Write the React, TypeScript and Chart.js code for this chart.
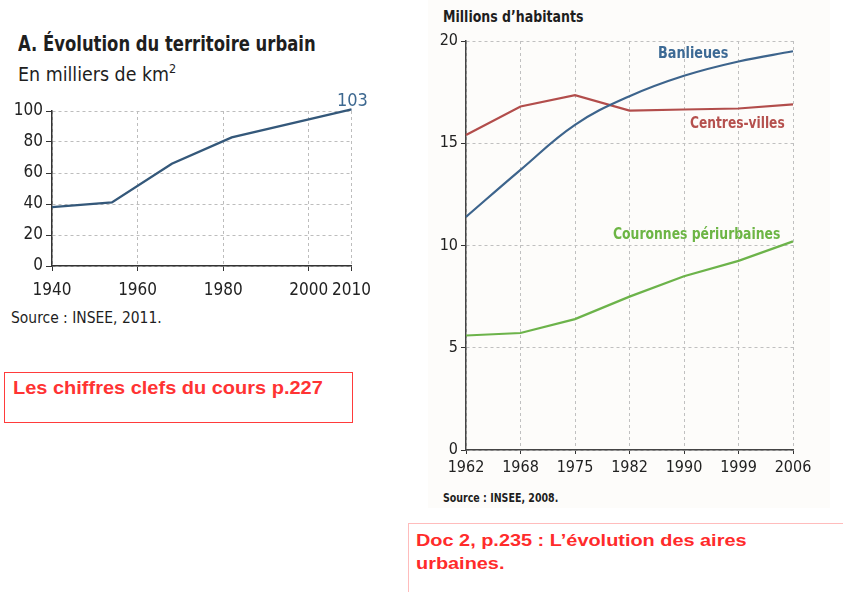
import React, { useEffect, useRef } from "react";
import { Chart, registerables } from "chart.js";

Chart.register(...registerables);

// ---- Chart A : territoire urbain (milliers de km²)
const areaYears = [1940, 1954, 1968, 1982, 2010];
const areaValues = [38, 41, 66, 83, 101];
const areaXTicks = [1940, 1960, 1980, 2000, 2010];
const areaYTicks = [0, 20, 40, 60, 80, 100];
const areaEndLabel = "103";

// ---- Doc 2 : population (millions d'habitants)
const popYears = ["1962", "1968", "1975", "1982", "1990", "1999", "2006"];
const banlieues = [11.4, 13.7, 15.9, 17.3, 18.3, 19.0, 19.5];
const centresVilles = [15.4, 16.8, 17.35, 16.6, 16.65, 16.7, 16.9];
const couronnes = [5.6, 5.72, 6.4, 7.5, 8.5, 9.25, 10.2];
const popYTicks = [0, 5, 10, 15, 20];

const COND = '"DejaVu Sans Condensed", sans-serif';
const ARIAL = '"Liberation Sans", Arial, sans-serif';

function AreaChart() {
  const ref = useRef<HTMLCanvasElement>(null);
  useEffect(() => {
    const chart = new Chart(ref.current!, {
      type: "line",
      data: {
        datasets: [
          {
            data: areaYears.map((y, i) => ({ x: y, y: areaValues[i] })),
            borderColor: "#34587a",
            borderWidth: 2.4,
            pointRadius: 0,
            tension: 0,
            clip: false as any,
          },
        ],
      },
      options: {
        animation: false,
        responsive: false,
        layout: { padding: { top: 16, right: 25, left: 0, bottom: 0 } },
        plugins: { legend: { display: false }, tooltip: { enabled: false } },
        scales: {
          x: {
            type: "linear",
            min: 1940,
            max: 2010,
            afterBuildTicks: (s: any) => {
              s.ticks = areaXTicks.map((v) => ({ value: v }));
            },
            afterFit: (s: any) => {
              s.height = 39;
            },
            ticks: {
              font: { family: COND, size: 17 },
              color: "#222",
              padding: 9,
              maxRotation: 0,
              autoSkip: false,
              callback: (v: any) => String(v),
            },
            grid: { color: "#bdbdbd", tickColor: "#333", tickLength: 5, lineWidth: 1 },
            border: { color: "#333", width: 1.5, dash: [3, 3] },
          },
          y: {
            min: 0,
            max: 100,
            afterBuildTicks: (s: any) => {
              s.ticks = areaYTicks.map((v) => ({ value: v }));
            },
            afterFit: (s: any) => {
              s.width = 52;
            },
            ticks: { font: { family: COND, size: 17 }, color: "#222", padding: 3 },
            grid: { color: "#bdbdbd", tickColor: "#333", tickLength: 6, lineWidth: 1 },
            border: { color: "#333", width: 1.5, dash: [3, 3] },
          },
        },
      },
    });
    return () => chart.destroy();
  }, []);
  return <canvas ref={ref} width={380} height={210} style={{ position: "absolute", left: 0, top: 95 }} />;
}

function PopChart() {
  const ref = useRef<HTMLCanvasElement>(null);
  useEffect(() => {
    const common = { pointRadius: 0, borderWidth: 2.2, fill: false };
    const chart = new Chart(ref.current!, {
      type: "line",
      data: {
        labels: popYears,
        datasets: [
          { ...common, label: "Banlieues", data: banlieues, borderColor: "#3d648c", tension: 0.4 },
          { ...common, label: "Centres-villes", data: centresVilles, borderColor: "#b24d4b", tension: 0 },
          { ...common, label: "Couronnes périurbaines", data: couronnes, borderColor: "#6cb34a", tension: 0 },
        ],
      },
      options: {
        animation: false,
        responsive: false,
        layout: { padding: { top: 16, right: 47, left: 0, bottom: 0 } },
        plugins: { legend: { display: false }, tooltip: { enabled: false } },
        scales: {
          x: {
            offset: false,
            afterFit: (s: any) => {
              s.height = 35;
            },
            ticks: { font: { family: COND, size: 16 }, color: "#222", padding: 4, maxRotation: 0, autoSkip: false },
            grid: { color: "#c0c0c0", tickColor: "#333", tickLength: 4, lineWidth: 1 },
            border: { color: "#444", width: 1.5, dash: [3, 3] },
          },
          y: {
            min: 0,
            max: 20,
            afterBuildTicks: (s: any) => {
              s.ticks = popYTicks.map((v) => ({ value: v }));
            },
            afterFit: (s: any) => {
              s.width = 46;
            },
            ticks: { font: { family: COND, size: 16 }, color: "#222", padding: 3 },
            grid: { color: "#c0c0c0", tickColor: "#333", tickLength: 5, lineWidth: 1 },
            border: { color: "#444", width: 1.5, dash: [3, 3] },
          },
        },
      },
    });
    return () => chart.destroy();
  }, []);
  return <canvas ref={ref} width={420} height={460} style={{ position: "absolute", left: 420, top: 25 }} />;
}

function T(props: {
  x: number;
  top: number;
  size: number;
  text?: string;
  color?: string;
  weight?: string | number;
  family?: string;
  sx?: number;
  children?: any;
}) {
  return (
    <div
      style={{
        position: "absolute",
        left: props.x,
        top: props.top,
        fontSize: props.size,
        lineHeight: 1,
        whiteSpace: "nowrap",
        color: props.color || "#1e1e1e",
        fontWeight: props.weight || "normal",
        fontFamily: props.family || COND,
        transform: props.sx ? `scaleX(${props.sx})` : undefined,
        transformOrigin: "left top",
      }}
    >
      {props.text}
      {props.children}
    </div>
  );
}

export default function App() {
  return (
    <div
      style={{
        position: "absolute",
        left: 0,
        top: 0,
        width: 843,
        height: 592,
        overflow: "hidden",
        background: "#ffffff",
      }}
    >
      {/* faint scanned page tint behind Doc 2 */}
      <div style={{ position: "absolute", left: 428, top: 0, width: 402, height: 508, background: "#fdfcfa" }} />

      <T x={18} top={34} size={21} weight="bold" sx={0.87} text="A. Évolution du territoire urbain" />
      <T x={18} top={64} size={20} sx={0.97}>
        En milliers de km<sup style={{ fontSize: 13, verticalAlign: "8px", lineHeight: 0 }}>2</sup>
      </T>
      <AreaChart />
      <T x={337} top={91} size={18} color="#3d6890" text={areaEndLabel} />
      <T x={11} top={311} size={15} sx={1.03} text="Source : INSEE, 2011." />

      <T x={443} top={10} size={15} weight="bold" sx={0.93} text="Millions d’habitants" />
      <PopChart />
      <T x={658} top={45} size={16} weight="bold" sx={0.89} color="#3d6a95" text="Banlieues" />
      <T x={690} top={115} size={16} weight="bold" sx={0.85} color="#b5504d" text="Centres-villes" />
      <T x={613} top={226} size={16} weight="bold" sx={0.86} color="#6cb544" text="Couronnes périurbaines" />
      <T x={443} top={491} size={13} weight="bold" sx={0.81} text="Source : INSEE, 2008." />

      <div
        style={{
          position: "absolute",
          left: 4,
          top: 372,
          width: 349,
          height: 51,
          border: "1px solid #ff3b3b",
          boxSizing: "border-box",
        }}
      />
      <T x={13} top={379} size={18} weight="bold" sx={1.11} color="#ff3333" family={ARIAL} text="Les chiffres clefs du cours p.227" />

      <div
        style={{
          position: "absolute",
          left: 408,
          top: 523,
          width: 440,
          height: 80,
          border: "1px solid #ffbcbc",
          boxSizing: "border-box",
        }}
      />
      <T x={416} top={532} size={17} weight="bold" sx={1.17} color="#ff2b2b" family={ARIAL} text="Doc 2, p.235 : L’évolution des aires" />
      <T x={416} top={555} size={17} weight="bold" sx={1.17} color="#ff2b2b" family={ARIAL} text="urbaines." />
    </div>
  );
}
